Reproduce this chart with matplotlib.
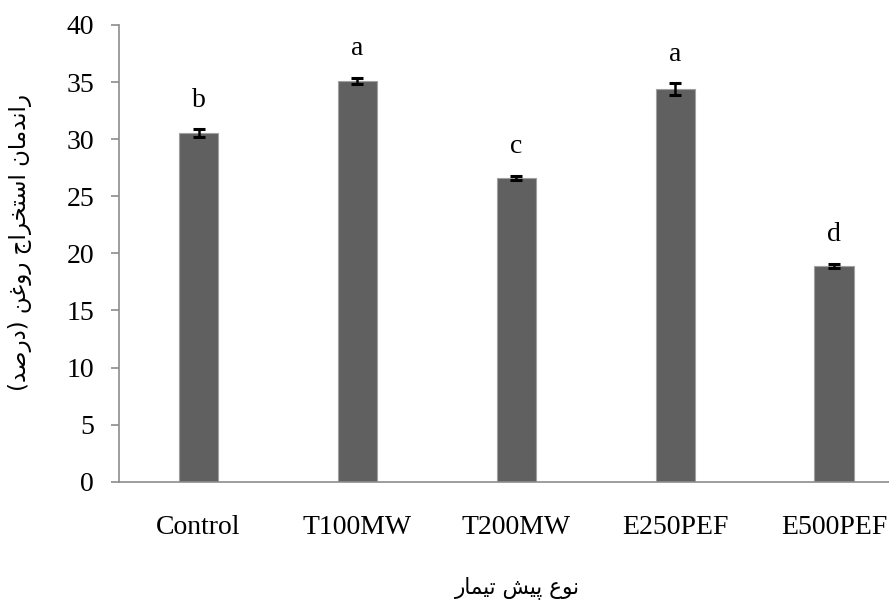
import numpy as np
import matplotlib.pyplot as plt

# data
treatments = ['Control', 'T100MW', 'T200MW', 'E250PEF', 'E500PEF']
oil_yield = [30.5, 35.1, 26.6, 34.4, 18.9]
yield_err = [0.35, 0.25, 0.2, 0.5, 0.2]
groups = ['b', 'a', 'c', 'a', 'd']

# persian labels, shaped by hand into presentation forms (visual order)
ylabel_fa = ('(\uFEAA\uFEBB\uFEAD\uFEA9)' + ' '
             + '\uFEE6\uFECF\uFEED\uFEAD' + ' '
             + '\uFE9D\uFE8D\uFEAE\uFEA8\uFE98\uFEB3\uFE8D' + ' '
             + '\uFEE5\uFE8E\uFEE3\uFEAA\uFEE7\uFE8D\uFEAD')
xlabel_fa = ('\uFEAD\uFE8E\uFEE4\uFEF4\uFE97' + ' '
             + '\uFEB6\uFEF4\uFB58' + ' '
             + '\uFEC9\uFEEE\uFEE7')

plt.rcParams['font.family'] = ['Liberation Serif', 'DejaVu Sans']

fig = plt.figure(figsize=(8.89, 6.11), dpi=100)
ax = fig.add_axes([0.1339, 0.2116, 0.894, 0.7475])

x = np.arange(len(treatments))
ax.bar(x, oil_yield, width=0.25, color='#606060', edgecolor='#a0a0a0', linewidth=0.8)
ax.errorbar(x, oil_yield, yerr=yield_err, fmt='none', ecolor='black',
            elinewidth=1.8, capsize=4.6, capthick=2.2)

for xi, v, e, g in zip(x, oil_yield, yield_err, groups):
    ax.annotate(g, (xi, v + e), xytext=(0, 12), textcoords='offset points',
                ha='center', va='bottom', fontsize=20)

ax.set_xlim(-0.5, 4.5)
ax.set_ylim(0, 40)
ax.set_yticks(np.arange(0, 41, 5))
ax.set_xticks(x)
ax.set_xticklabels(treatments)

for s in ['top', 'right']:
    ax.spines[s].set_visible(False)
for s in ['left', 'bottom']:
    ax.spines[s].set_color('#8c8c8c')
    ax.spines[s].set_linewidth(1.2)

ax.tick_params(axis='y', direction='out', length=6, width=1.2, color='#8c8c8c',
               pad=12, labelsize=20)
ax.tick_params(axis='x', length=0, pad=24, labelsize=20)

fig.text(0.023, 0.603, ylabel_fa, rotation=90, ha='center', va='center',
         fontsize=16.5, family='DejaVu Sans')
fig.text(0.582, 0.038, xlabel_fa, ha='center', va='center',
         fontsize=15.5, family='DejaVu Sans')

fig.savefig('out.png', dpi=100)
